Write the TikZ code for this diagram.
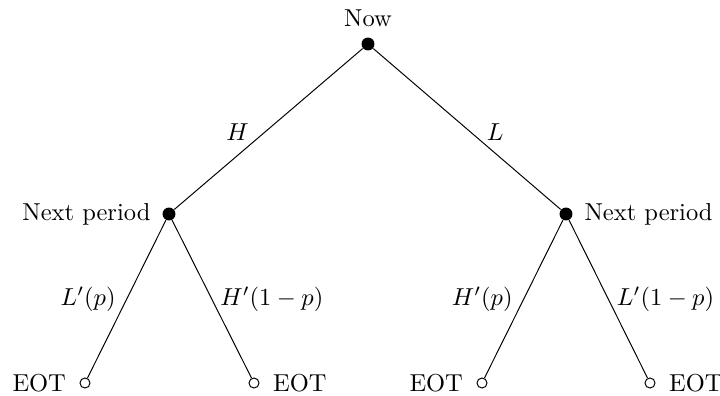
\documentclass[tikz,border=0pt]{standalone}
\begin{document}
\begin{tikzpicture}[x=0.4082pt,y=-0.4082pt,
  solid dot/.style={circle,fill=black,inner sep=0pt,minimum size=5.3pt},
  hollow dot/.style={circle,draw=black,fill=white,inner sep=0pt,minimum size=4.1pt,line width=0.4pt},
  edge line/.style={line width=0.4pt}]
\useasboundingbox (0,0) rectangle (720,395);
\node[solid dot,label={[label distance=0.8pt]above:Now}] (root) at (368,44) {};
\node[solid dot,label={[label distance=1.2pt]left:Next period}] (l) at (169,214) {};
\node[solid dot,label={[label distance=1.2pt]right:Next period}] (r) at (566,214) {};
\node[hollow dot,label={[label distance=2pt]left:EOT}] (ll) at (85,383) {};
\node[hollow dot,label={[label distance=2pt]right:EOT}] (lr) at (254,383) {};
\node[hollow dot,label={[label distance=2pt]left:EOT}] (rl) at (482,383) {};
\node[hollow dot,label={[label distance=2pt]right:EOT}] (rr) at (650,383) {};
\draw[edge line] (root) -- node[pos=0.52,left=3pt] {$H$} (l);
\draw[edge line] (root) -- node[pos=0.52,right=3pt] {$L$} (r);
\draw[edge line] (l) -- node[midway,left=1pt] {$L'(p)$} (ll);
\draw[edge line] (l) -- node[midway,right=0pt] {$H'(1-p)$} (lr);
\draw[edge line] (r) -- node[midway,left=1pt] {$H'(p)$} (rl);
\draw[edge line] (r) -- node[midway,right=0pt] {$L'(1-p)$} (rr);
\end{tikzpicture}
\end{document}
